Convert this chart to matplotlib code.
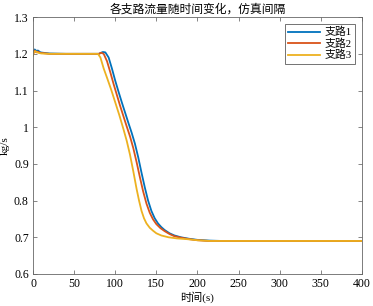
import numpy as np
import matplotlib
matplotlib.use('Agg')
import matplotlib.pyplot as plt

plt.rcParams['font.family'] = ['Liberation Serif', 'Noto Sans CJK SC']

# time (s) and mass flow (kg/s)
t1 = [0, 2, 4, 6, 9, 12, 20, 40, 60, 80, 85, 88, 92, 96, 100, 104, 108, 112, 116, 120,
      124, 128, 132, 136, 140, 144, 148, 152, 156, 160, 166, 172, 180, 190, 200, 215, 230, 400]
v1 = [1.202, 1.212, 1.208, 1.209, 1.204, 1.203, 1.201, 1.200, 1.200, 1.200, 1.205, 1.204, 1.190,
      1.160, 1.127, 1.097, 1.068, 1.040, 1.012, 0.985, 0.955, 0.918, 0.876, 0.836, 0.800, 0.772,
      0.752, 0.738, 0.728, 0.720, 0.711, 0.705, 0.700, 0.696, 0.693, 0.691, 0.690, 0.690]

t2 = [0, 2, 4, 6, 9, 12, 20, 40, 60, 80, 83, 86, 90, 94, 98, 102, 106, 110, 114, 118,
      122, 126, 130, 134, 138, 142, 146, 150, 155, 160, 166, 172, 180, 190, 200, 215, 400]
v2 = [1.198, 1.209, 1.204, 1.206, 1.202, 1.202, 1.200, 1.200, 1.200, 1.200, 1.203, 1.200, 1.180,
      1.150, 1.118, 1.088, 1.058, 1.030, 1.002, 0.975, 0.943, 0.905, 0.864, 0.825, 0.792, 0.767,
      0.749, 0.736, 0.725, 0.717, 0.709, 0.703, 0.699, 0.695, 0.692, 0.690, 0.690]

t3 = [0, 1, 3, 6, 10, 20, 40, 60, 79, 82, 86, 90, 95, 100, 105, 110, 114, 118, 122, 126,
      129, 132, 135, 138, 142, 146, 150, 156, 165, 175, 187, 200, 215, 400]
v3 = [1.195, 1.205, 1.207, 1.203, 1.201, 1.200, 1.200, 1.200, 1.200, 1.190, 1.160, 1.135, 1.103,
      1.068, 1.033, 0.995, 0.963, 0.925, 0.880, 0.832, 0.800, 0.772, 0.752, 0.738, 0.726, 0.718,
      0.711, 0.705, 0.700, 0.697, 0.695, 0.692, 0.690, 0.690]

labels = ['支路1', '支路2', '支路3']
colors = ['#0072BD', '#D95319', '#EDB120']
xticks = [0, 50, 100, 150, 200, 250, 300, 350, 400]
yticks = [0.6, 0.7, 0.8, 0.9, 1.0, 1.1, 1.2, 1.3]

fig = plt.figure(figsize=(3.73, 3.06), dpi=100)
ax = fig.add_axes([0.0885, 0.1046, 0.8815, 0.8394])

for t, v, lab, c in zip([t1, t2, t3], [v1, v2, v3], labels, colors):
    ax.plot(t, v, color=c, lw=1.3, label=lab)

ax.set_xlim(0, 400)
ax.set_ylim(0.6, 1.3)
ax.set_xticks(xticks)
ax.set_yticks(yticks)
ax.set_yticklabels([f'{y:g}' for y in yticks])
ax.tick_params(direction='in', top=True, right=True, labelsize=8.5, length=3,
               width=0.5, color='#555555', pad=3)
for s in ax.spines.values():
    s.set_linewidth(0.6)
    s.set_color('#666666')

ax.set_title('各支路流量随时间变化，仿真间隔', fontsize=8.5, pad=3)
ax.set_xlabel('时间(s)', fontsize=8, labelpad=1)
ax.set_ylabel('kg/s', fontsize=8, labelpad=3)

leg = ax.legend(loc='upper right', fontsize=7.8, handlelength=3.0, frameon=True,
                fancybox=False, borderpad=0.3, labelspacing=0.1, handletextpad=0.4,
                borderaxespad=0.6)
leg.get_frame().set_edgecolor('#333333')
leg.get_frame().set_linewidth(0.6)

fig.savefig('out.png', dpi=100)
